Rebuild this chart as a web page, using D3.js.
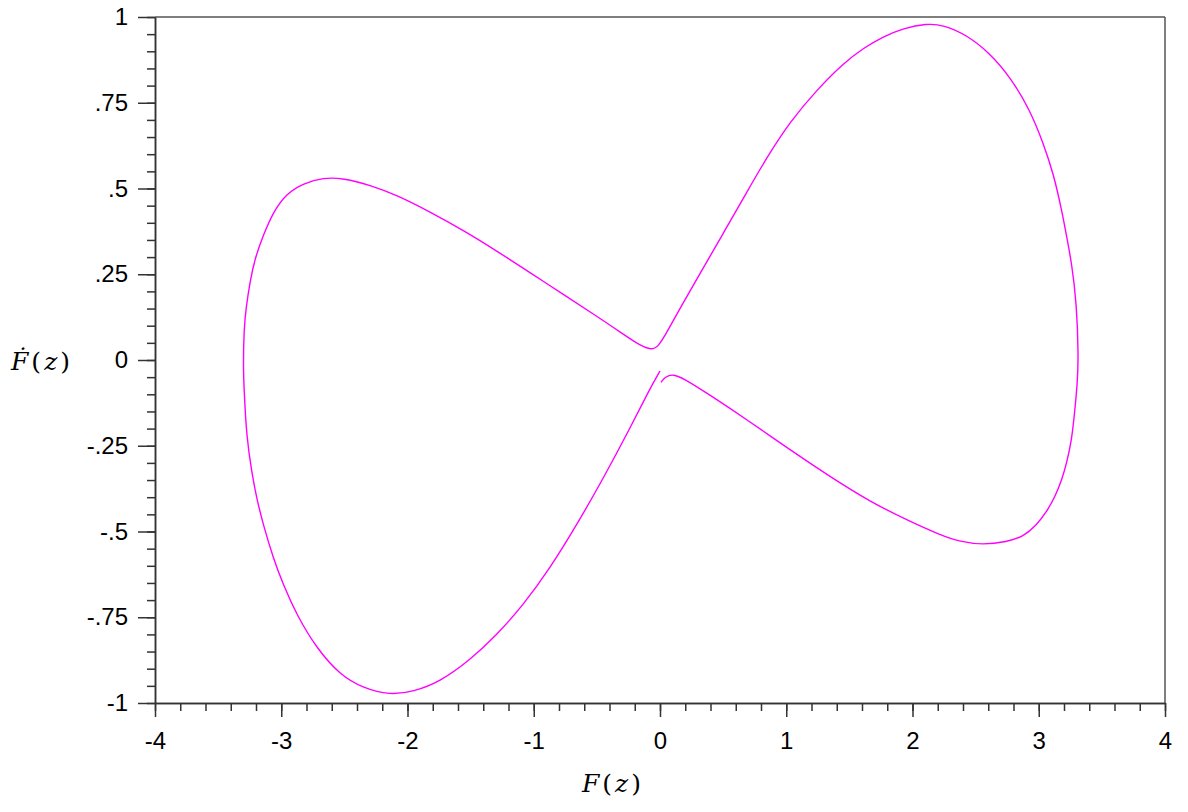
<!DOCTYPE html>
<html>
<head>
<meta charset="utf-8">
<script src="https://cdn.jsdelivr.net/npm/d3@7"></script>
<style>
  body { margin: 0; background: #fff; }
  .axis text { font-family: "Liberation Sans", Arial, sans-serif; font-size: 24px; fill: #000; }
  .axis path, .axis line { stroke: #333; stroke-width: 1.5; }
  .title { font-family: "DejaVu Serif", serif; font-size: 25px; letter-spacing: 3px; fill: #000; }
</style>
</head>
<body>
<script>
var w = 1188;
var h = 812;
var margin = {top: 17, right: 23, bottom: 109, left: 155};

var fz = [0.008, 0.04, 0.105, 0.185, 0.396, 0.713, 1.030, 1.347, 1.663, 1.980, 2.218, 2.376, 2.561, 2.746, 2.878, 2.983, 3.063, 3.129, 3.182, 3.221, 3.261, 3.285, 3.306, 3.315,
  3.300, 3.261, 3.221, 3.182, 3.116, 3.036, 2.931, 2.772, 2.614, 2.429, 2.244, 2.112, 1.927, 1.769, 1.610, 1.452, 1.241, 1.030, 0.845, 0.687, 0.502, 0.317, 0.158, 0.053, -0.013,
  -0.066, -0.158, -0.290, -0.502, -0.766, -1.030, -1.294, -1.558, -1.822, -2.086, -2.297, -2.508, -2.667, -2.825, -2.957, -3.063, -3.142, -3.208, -3.248, -3.279, -3.295, -3.301,
  -3.295, -3.274, -3.234, -3.195, -3.142, -3.063, -2.983, -2.878, -2.719, -2.535, -2.350, -2.139, -1.954, -1.743, -1.505, -1.294, -1.083, -0.871, -0.660, -0.449, -0.238, -0.079, 0.0];
var fzDot = [-0.065, -0.049, -0.041, -0.053, -0.102, -0.180, -0.262, -0.340, -0.413, -0.471, -0.510, -0.530, -0.539, -0.530, -0.515, -0.481, -0.442, -0.399, -0.350, -0.301, -0.233, -0.150, -0.068, 0.010,
  0.165, 0.282, 0.360, 0.437, 0.544, 0.632, 0.729, 0.826, 0.894, 0.948, 0.977, 0.981, 0.967, 0.943, 0.909, 0.865, 0.787, 0.695, 0.590, 0.489, 0.370, 0.252, 0.150, 0.080, 0.039,
  0.029, 0.042, 0.075, 0.128, 0.191, 0.255, 0.318, 0.378, 0.432, 0.481, 0.510, 0.530, 0.532, 0.515, 0.486, 0.432, 0.364, 0.297, 0.228, 0.151, 0.092, -0.015,
  -0.083, -0.228, -0.326, -0.403, -0.481, -0.578, -0.656, -0.743, -0.841, -0.918, -0.957, -0.977, -0.967, -0.938, -0.875, -0.802, -0.714, -0.607, -0.481, -0.345, -0.199, -0.083, -0.032];

var xTicks = [-4, -3, -2, -1, 0, 1, 2, 3, 4];
var xMinor = d3.range(-40, 41, 2).map(function(d) { return d / 10; });
var yTicks = [1, 0.75, 0.5, 0.25, 0, -0.25, -0.5, -0.75, -1];
var yTickLabels = ["1", ".75", ".5", ".25", "0", "-.25", "-.5", "-.75", "-1"];
var yMinor = d3.range(-20, 21, 1).map(function(d) { return d / 20; });

var x = d3.scaleLinear().domain([-4, 4]).range([margin.left, w - margin.right]);
var y = d3.scaleLinear().domain([-1, 1]).range([h - margin.bottom, margin.top]);

var svg = d3.select("body")
  .append("svg")
  .attr("width", w)
  .attr("height", h);

// frame top and right
svg.append("line")
  .attr("x1", x(-4)).attr("x2", x(4))
  .attr("y1", y(1)).attr("y2", y(1))
  .attr("stroke", "#555").attr("stroke-width", 1.5);
svg.append("line")
  .attr("x1", x(4)).attr("x2", x(4))
  .attr("y1", y(1)).attr("y2", y(-1))
  .attr("stroke", "#555").attr("stroke-width", 1.5);

// minor ticks
svg.append("g")
  .attr("class", "axis")
  .attr("transform", "translate(0," + y(-1) + ")")
  .call(d3.axisBottom(x).tickValues(xMinor).tickSize(8).tickSizeOuter(0).tickFormat(""));
svg.append("g")
  .attr("class", "axis")
  .attr("transform", "translate(" + x(-4) + ",0)")
  .call(d3.axisLeft(y).tickValues(yMinor).tickSize(8).tickSizeOuter(0).tickFormat(""));

// major ticks
svg.append("g")
  .attr("class", "axis")
  .attr("transform", "translate(0," + y(-1) + ")")
  .call(d3.axisBottom(x).tickValues(xTicks).tickSize(14).tickSizeOuter(0).tickPadding(15)
    .tickFormat(function(d) { return d; }));
svg.append("g")
  .attr("class", "axis")
  .attr("transform", "translate(" + x(-4) + ",0)")
  .call(d3.axisLeft(y).tickValues(yTicks).tickSize(17).tickSizeOuter(0).tickPadding(10)
    .tickFormat(function(d, i) { return yTickLabels[i]; }));

// trajectory
var pts = fz.map(function(d, i) { return [d, fzDot[i]]; });
var line = d3.line()
  .x(function(d) { return x(d[0]); })
  .y(function(d) { return y(d[1]); })
  .curve(d3.curveBasis);

svg.append("path")
  .datum(pts)
  .attr("d", line)
  .attr("fill", "none")
  .attr("stroke", "#ff00ff")
  .attr("stroke-width", 1.4);

// axis titles
var xt = svg.append("text")
  .attr("class", "title")
  .attr("x", 613)
  .attr("y", 792)
  .attr("text-anchor", "middle");
xt.append("tspan").attr("font-style", "italic").text("F");
xt.append("tspan").text("(");
xt.append("tspan").attr("font-style", "italic").text("z");
xt.append("tspan").text(")");

var yt = svg.append("text")
  .attr("class", "title")
  .attr("x", 11)
  .attr("y", 370);
yt.append("tspan").attr("font-style", "italic").text("\u1E1E");
yt.append("tspan").text("(");
yt.append("tspan").attr("font-style", "italic").text("z");
yt.append("tspan").text(")");
</script>
</body>
</html>
